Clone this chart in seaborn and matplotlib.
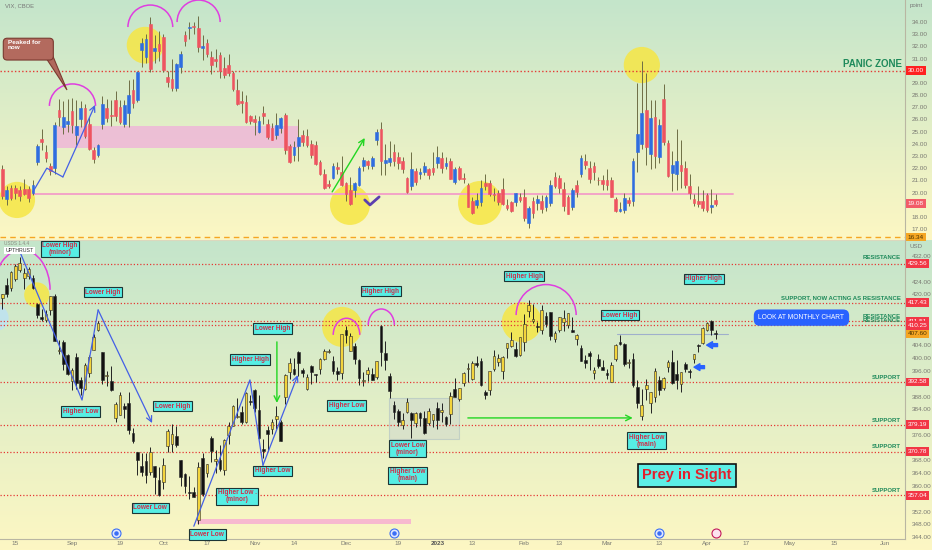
import matplotlib
matplotlib.use("Agg")
import matplotlib.pyplot as plt
import matplotlib.transforms as mtransforms
from matplotlib.colors import LinearSegmentedColormap
from matplotlib.patches import Arc, Rectangle, FancyBboxPatch, Polygon
import numpy as np
import pandas as pd
import seaborn as sns

# ---------------------------------------------------------------- data
# trading days shown: 2022-08-10 .. 2023-04-05, index 0 = Aug 15
holidays = ["2022-09-05", "2022-11-24", "2022-12-26",
            "2023-01-02", "2023-01-16", "2023-02-20"]
days = pd.bdate_range("2022-08-10", "2023-04-05")
days = days[~days.isin(pd.to_datetime(holidays))]
day_idx = np.arange(len(days)) - 3

# SPY daily (bottom panel)
spy_open = [
    418.8, 423.0, 422.0, 424.8, 427.7, 425.1, 425.8, 425.0, 417.1, 412.9, 412.1, 415.2, 419.4, 402.2, 405.0, 401.1,
    392.9, 400.3, 393.1, 390.4, 395.3, 402.7, 408.8, 401.8, 394.5, 393.0, 381.2, 382.3, 385.1, 386.1, 376.6, 370.6, 366.4, 367.8, 364.4, 366.1, 361.8,
    361.1, 372.4, 373.2, 375.6, 368.0, 363.9, 358.2, 358.2, 349.2, 368.6, 364.0, 375.1, 367.8, 368.0, 365.1, 375.9, 378.8, 381.6, 383.1, 379.9, 386.4,
    390.1, 383.9, 371.5, 377.4, 377.7, 381.1, 379.9, 388.0, 395.6, 396.7, 401.9, 396.4, 390.5, 397.7, 394.9, 396.6, 399.6, 401.8, 399.1, 396.1, 395.5,
    408.8, 402.3, 403.9, 399.4, 392.9, 395.1, 394.9, 394.1, 410.2, 401.6, 394.3, 385.2, 383.5, 379.0, 383.3, 383.0, 379.7, 382.8, 381.3, 379.6, 380.6,
    384.4, 383.2, 381.7, 382.6, 390.4, 387.2, 392.2, 396.7, 393.6, 398.5, 399.0, 389.4, 390.1, 396.7, 398.9, 395.9, 403.1, 403.7, 402.8, 401.1,
    405.2, 414.9, 411.6, 410.2, 408.9, 413.1, 414.4, 405.9, 408.7, 411.2, 410.4, 408.7, 406.1, 403.1, 399.5, 401.6, 395.4, 399.9, 397.2,
    395.4, 392.7, 399.7, 405.0, 404.4, 398.4, 399.7, 391.0, 381.8, 390.5, 385.9, 387.8, 393.2, 390.8, 397.2, 398.7, 395.1, 391.8, 398.1, 395.8, 399.9, 404.0, 404.7,
    408.9, 411.6, 408.0,
]
spy_high = [
    420.1, 425.0, 427.2, 429.4, 431.7, 428.1, 428.6, 426.2, 417.4, 415.4, 415.1, 419.6, 420.0, 405.8, 405.8, 401.2,
    396.8, 401.6, 394.1, 398.6, 401.0, 407.5, 411.7, 401.9, 396.1, 397.7, 386.3, 389.3, 386.1, 389.4, 378.3, 370.6, 370.2, 370.4, 372.3, 366.2, 365.9,
    368.6, 377.8, 379.5, 378.7, 368.0, 364.2, 363.0, 359.8, 367.5, 370.3, 367.0, 375.5, 371.2, 372.7, 374.8, 380.1, 385.3, 387.6, 385.0, 389.5, 388.4,
    390.4, 388.6, 374.8, 378.9, 381.0, 385.1, 380.6, 395.0, 400.0, 400.2, 402.3, 397.0, 394.9, 397.8, 395.1, 400.0, 403.0, 403.0, 400.8, 397.3, 407.7,
    410.0, 407.9, 404.9, 399.6, 395.6, 397.4, 397.0, 399.0, 410.5, 405.5, 395.3, 386.6, 384.2, 383.0, 387.4, 383.3, 383.1, 383.2, 383.4, 384.4, 382.6,
    386.4, 385.9, 381.8, 389.3, 393.7, 390.7, 395.6, 398.5, 399.1, 400.8, 400.1, 390.0, 396.0, 402.6, 401.2, 400.7, 404.9, 408.2, 405.1, 406.5,
    413.7, 418.3, 417.0, 411.3, 416.5, 414.5, 414.6, 408.4, 413.0, 415.0, 414.1, 412.9, 407.5, 404.2, 401.1, 402.2, 397.2, 401.3, 399.3,
    396.7, 398.7, 404.5, 407.4, 404.7, 399.7, 401.6, 393.2, 390.4, 393.5, 389.5, 397.0, 394.4, 394.2, 399.4, 402.5, 399.3, 395.8, 398.9, 396.5, 401.4, 404.5, 409.7,
    411.3, 411.9, 408.7,
]
spy_low = [
    415.3, 419.2, 421.0, 424.3, 426.9, 421.8, 424.8, 421.7, 412.5, 411.8, 411.4, 413.6, 405.3, 401.2, 396.2, 394.8,
    390.0, 390.3, 388.4, 390.2, 394.2, 402.5, 408.5, 391.8, 391.2, 389.6, 379.9, 382.2, 381.2, 376.4, 373.4, 363.3, 363.0, 360.9, 363.3, 357.4, 357.0,
    359.2, 370.5, 370.6, 372.3, 359.9, 357.7, 355.9, 356.4, 348.1, 356.9, 362.9, 367.5, 364.2, 364.6, 363.5, 373.1, 378.7, 381.4, 379.3, 379.7, 385.3,
    383.3, 374.8, 368.8, 370.9, 376.2, 377.7, 374.0, 385.6, 393.5, 394.6, 394.5, 394.2, 390.1, 392.0, 392.7, 395.2, 399.3, 401.5, 395.1, 393.3, 393.5,
    404.8, 402.1, 398.2, 391.6, 391.4, 392.8, 393.3, 393.6, 397.5, 396.3, 387.4, 381.0, 378.8, 377.7, 382.7, 374.9, 378.4, 378.8, 376.4, 379.1, 378.4,
    377.8, 380.0, 378.8, 379.4, 387.7, 386.6, 391.4, 392.4, 393.3, 397.1, 391.3, 387.3, 388.4, 396.0, 397.6, 393.6, 400.0, 403.4, 400.3, 400.8,
    402.4, 412.9, 411.1, 408.1, 407.6, 409.9, 405.8, 405.0, 408.2, 408.5, 409.5, 408.1, 404.1, 399.0, 397.0, 396.3, 393.6, 396.8, 396.2,
    393.4, 392.6, 399.0, 404.0, 397.6, 396.8, 390.9, 384.3, 380.7, 387.0, 382.7, 386.3, 388.6, 390.1, 395.6, 392.0, 390.4, 389.4, 395.6, 393.7, 398.5, 401.8, 404.5,
    408.4, 407.2, 405.9,
]
spy_close = [
    420.0, 420.0, 427.1, 428.9, 429.7, 426.7, 427.9, 422.1, 413.4, 412.4, 413.7, 419.5, 405.3, 402.6, 398.2, 395.2,
    396.4, 392.2, 390.8, 397.8, 400.4, 406.6, 411.0, 393.1, 394.6, 390.1, 385.6, 388.6, 384.1, 377.4, 374.2, 368.0, 364.3, 363.4, 370.5, 362.8, 357.2,
    366.6, 377.1, 376.4, 372.7, 362.8, 360.0, 357.7, 356.6, 366.0, 357.6, 366.8, 371.1, 368.5, 365.4, 374.3, 378.9, 384.9, 382.0, 380.0, 389.0, 386.2,
    384.5, 374.9, 371.0, 376.4, 380.0, 382.0, 374.1, 394.7, 398.5, 395.1, 398.5, 395.5, 394.2, 395.6, 394.6, 399.9, 402.4, 402.3, 395.9, 395.2, 407.7,
    407.4, 406.9, 399.6, 393.8, 393.2, 396.2, 393.3, 399.0, 402.0, 399.4, 389.6, 383.3, 380.0, 380.5, 386.2, 380.7, 382.9, 381.4, 376.7, 383.4, 382.4,
    380.8, 383.8, 379.4, 388.1, 387.9, 390.6, 395.5, 397.0, 398.5, 397.8, 391.5, 388.6, 395.9, 400.6, 400.2, 400.4, 404.8, 405.7, 400.6, 406.5,
    410.8, 416.8, 412.4, 409.8, 415.2, 410.7, 407.1, 408.0, 412.8, 412.6, 414.0, 408.3, 407.3, 399.1, 398.5, 400.7, 396.4, 397.7, 396.3,
    394.7, 397.8, 404.2, 404.5, 398.3, 398.9, 391.6, 385.9, 385.4, 391.7, 389.3, 396.1, 390.0, 393.7, 398.9, 392.1, 393.2, 395.8, 396.5, 395.6, 401.4, 403.7, 409.4,
    411.0, 408.7, 407.6,
]

# VIX daily (top panel)
vix_open = [
    21.9, 19.5, 20.4, 20.4, 20.2, 20.3, 20.3, 20.0, 22.5, 24.4, 23.3, 22.2, 22.0, 26.8, 25.4, 25.6,
    26.7, 24.7, 26.0, 26.9, 25.6, 23.5, 23.1, 25.6, 26.9, 26.3, 27.6, 27.0, 25.6, 26.5, 28.4, 27.6, 31.7, 31.1, 33.8, 31.6, 32.2,
    32.8, 29.5, 29.3, 28.6, 30.3, 32.9, 33.5, 33.6, 33.5, 31.9, 32.3, 31.1, 31.0, 31.3, 30.2, 30.5, 29.8, 28.4, 27.5, 27.4, 26.3,
    26.0, 25.0, 26.5, 25.6, 25.3, 24.7, 25.3, 26.4, 23.8, 23.1, 23.8, 24.7, 24.6, 24.0, 23.9, 22.5, 21.5, 20.7, 21.2, 22.1, 21.7,
    20.8, 20.2, 20.2, 20.6, 22.2, 22.6, 22.2, 24.3, 25.2, 22.4, 22.5, 23.3, 22.9, 22.6, 21.2, 20.5, 21.8, 21.5, 21.7, 21.9, 22.0,
    22.4, 22.8, 22.2, 22.6, 20.9, 22.0, 21.2, 20.6, 19.3, 19.0, 19.2, 20.8, 20.8, 19.9, 20.0, 20.3, 19.0, 19.2, 19.2, 19.6,
    19.6, 17.5, 19.3, 19.1, 19.3, 18.8, 19.1, 21.3, 21.2, 20.3, 19.6, 18.8, 20.6, 21.5, 22.6, 22.0, 22.2, 21.0, 21.0,
    21.0, 21.0, 19.5, 18.5, 18.6, 19.4, 19.3, 23.3, 24.0, 26.8, 23.2, 26.2, 22.9, 27.7, 24.1, 21.6, 21.5, 22.3, 22.0, 20.5, 19.5, 19.3, 19.3,
    19.8, 18.8, 19.4,
]
vix_high = [
    22.3, 20.5, 20.6, 20.6, 20.5, 21.1, 20.5, 21.0, 24.0, 25.2, 23.9, 22.4, 25.8, 27.7, 27.5, 27.7,
    27.8, 27.6, 27.5, 27.3, 26.2, 23.7, 24.0, 27.9, 27.7, 27.6, 28.3, 27.6, 27.6, 29.2, 29.3, 30.0, 32.7, 33.0, 34.4, 32.9, 33.3,
    33.0, 30.0, 31.0, 30.6, 31.6, 33.3, 34.0, 34.0, 34.5, 32.9, 32.6, 31.6, 31.8, 31.5, 31.1, 31.4, 30.0, 29.3, 28.3, 28.0, 26.4,
    26.4, 26.3, 27.1, 26.0, 25.7, 26.5, 26.2, 26.5, 24.0, 24.2, 26.0, 25.1, 25.2, 24.3, 24.2, 22.7, 21.9, 21.0, 22.4, 22.5, 23.0,
    20.9, 21.3, 20.9, 22.2, 22.9, 22.7, 23.0, 25.2, 25.8, 24.0, 24.2, 24.0, 23.3, 22.9, 21.3, 23.3, 22.0, 22.0, 22.5, 22.0, 23.3,
    23.8, 23.3, 22.9, 22.8, 22.1, 22.2, 21.6, 20.8, 19.6, 20.0, 21.0, 21.5, 21.0, 20.4, 20.2, 21.2, 19.5, 19.3, 20.0, 20.0,
    20.3, 18.9, 19.6, 19.8, 19.8, 19.8, 21.0, 21.7, 21.4, 20.9, 19.8, 20.4, 21.0, 23.1, 23.2, 22.6, 22.5, 21.3, 21.4,
    21.9, 21.3, 19.6, 19.2, 20.0, 19.6, 22.8, 29.0, 30.8, 29.8, 27.6, 27.6, 26.0, 28.9, 24.3, 23.4, 25.2, 24.3, 22.6, 21.5, 19.9, 20.5, 20.2,
    20.0, 20.3, 19.9,
]
vix_low = [
    19.5, 19.0, 19.4, 19.5, 19.3, 19.8, 19.2, 19.8, 22.3, 23.5, 22.5, 21.4, 21.5, 25.5, 24.8, 25.0,
    24.9, 23.9, 25.4, 24.5, 23.5, 22.4, 22.9, 25.2, 25.8, 25.5, 25.9, 25.6, 25.4, 25.4, 26.9, 27.4, 30.3, 30.6, 29.9, 30.6, 30.8,
    29.9, 28.7, 28.3, 28.3, 29.8, 32.0, 32.6, 33.0, 31.5, 30.9, 31.1, 29.7, 30.3, 29.4, 29.4, 29.6, 28.3, 27.2, 26.5, 25.7, 25.6,
    24.7, 24.9, 25.6, 24.4, 24.3, 24.4, 24.9, 23.2, 22.4, 22.6, 22.6, 23.8, 23.7, 22.8, 22.3, 21.4, 20.3, 20.4, 21.1, 21.5, 20.5,
    19.3, 19.0, 19.6, 20.5, 21.8, 21.9, 21.9, 23.9, 21.4, 21.4, 22.2, 22.2, 21.9, 21.6, 20.0, 20.2, 20.6, 21.1, 21.4, 21.1, 21.4,
    22.0, 21.6, 21.9, 21.1, 20.7, 21.0, 20.8, 18.8, 18.2, 18.7, 18.9, 20.2, 19.7, 19.3, 19.0, 19.0, 18.6, 18.4, 18.9, 19.2,
    17.7, 17.1, 17.9, 18.6, 18.3, 18.5, 18.9, 20.4, 20.0, 18.5, 18.2, 18.6, 19.6, 21.3, 21.9, 20.8, 21.0, 20.6, 20.2,
    20.2, 19.6, 18.4, 18.4, 18.3, 18.9, 18.9, 21.7, 23.6, 22.3, 21.9, 22.0, 22.4, 23.9, 21.3, 20.1, 20.2, 20.4, 20.4, 19.5, 18.9, 18.8, 18.5,
    18.4, 18.3, 18.9,
]
vix_close = [
    19.74, 20.20, 19.53, 19.95, 19.69, 19.90, 19.56, 20.60, 23.80, 24.11, 22.82, 21.78, 25.56, 26.21, 26.21, 25.87,
    25.56, 25.47, 26.91, 24.64, 23.61, 22.79, 23.87, 27.27, 26.16, 26.27, 26.30, 25.76, 27.16, 27.99, 27.35, 29.92, 32.26, 32.60, 30.18, 31.84, 31.62,
    30.10, 29.07, 28.55, 30.52, 31.36, 32.45, 33.63, 33.57, 31.94, 32.02, 31.37, 30.50, 30.76, 29.98, 29.69, 29.85, 28.46, 27.28, 27.39, 25.75, 25.88,
    25.81, 25.86, 26.27, 24.55, 24.35, 25.54, 26.09, 23.53, 22.52, 23.73, 24.54, 24.11, 23.93, 23.12, 22.36, 21.51, 20.35, 20.50, 22.21, 21.89, 20.58,
    19.84, 19.06, 20.75, 22.01, 22.68, 22.29, 22.83, 25.00, 22.55, 22.68, 22.83, 22.62, 22.42, 21.97, 20.07, 21.97, 20.87, 21.65, 22.14, 21.44, 21.67,
    22.90, 22.01, 22.46, 21.13, 21.97, 21.07, 21.09, 18.83, 18.35, 19.36, 20.34, 20.52, 19.85, 19.81, 19.20, 19.08, 18.73, 18.51, 19.94, 19.40,
    17.87, 18.73, 18.33, 19.43, 18.66, 19.63, 20.63, 20.53, 20.34, 18.91, 18.23, 20.17, 20.02, 22.87, 22.29, 21.14, 21.67, 20.95, 20.70,
    20.58, 19.63, 18.49, 18.61, 19.59, 19.11, 22.61, 24.80, 26.52, 23.73, 26.14, 22.99, 25.51, 24.12, 21.38, 22.26, 22.61, 21.74, 20.60, 19.97, 19.12, 19.02, 18.70,
    18.55, 19.00, 19.08,
]

# horizontal levels
vix_panic = 30.00
vix_floor = 16.34
vix_last = 19.08
spy_levels = [429.56, 417.43, 411.51, 410.25, 392.58, 379.19, 370.78, 357.04]
spy_last = 407.60
level_notes = [(431.4, "RESISTANCE"), (418.8, "SUPPORT, NOW ACTING AS RESISTANCE"),
               (413.1, "RESISTANCE"), (411.9, "RESISTANCE"), (394.1, "SUPPORT"),
               (380.6, "SUPPORT"), (372.5, "SUPPORT"), (358.7, "SUPPORT")]

# price-scale ticks (those hidden behind the price tags left out)
vix_ticks = [17, 18, 20, 21, 22, 23, 24, 25, 26, 27, 28, 29, 31, 32, 33, 34]
spy_ticks = [344, 348, 352, 360, 364, 368, 376, 384, 388, 396, 400, 404, 420, 424, 432]

# time axis labels (day index positions)
tick_pos = [0, 13, 24, 34, 44, 55, 64, 76, 88, 97, 105, 117, 125, 136, 148, 159, 168, 178, 188.2, 199.9]
tick_lab = ["15", "Sep", "19", "Oct", "17", "Nov", "14", "Dec", "19", "2023",
            "13", "Feb", "13", "Mar", "13", "Apr", "17", "May", "15", "Jun"]

# swing labels on the SPY panel
swing_labels = [
    (10.2, 434.2, "Lower High\n(minor)"), (20.1, 420.6, "Lower High"), (14.9, 383.3, "Higher Low"),
    (36.1, 384.9, "Lower High"), (59.1, 409.3, "Lower High"), (54.0, 399.6, "Higher High"),
    (59.1, 364.8, "Higher Low"), (51.0, 356.8, "Higher Low .\n(minor)"), (31.0, 353.2, "Lower Low"),
    (44.1, 344.8, "Lower Low"), (84.0, 420.9, "Higher High"), (76.1, 385.2, "Higher Low"),
    (90.1, 371.6, "Lower Low\n(minor)"), (90.1, 363.4, "Higher Low\n(main)"), (117.0, 425.6, "Higher High"),
    (139.0, 413.4, "Lower High"), (158.2, 424.8, "Higher High"), (145.1, 374.1, "Higher Low\n(main)"),
]

spy = pd.DataFrame({"x": day_idx, "open": spy_open, "high": spy_high,
                    "low": spy_low, "close": spy_close})
vix = pd.DataFrame({"x": day_idx, "open": vix_open, "high": vix_high,
                    "low": vix_low, "close": vix_close})

# ---------------------------------------------------------------- style
sns.set_style("white")
plt.rcParams["font.family"] = ["Liberation Sans", "DejaVu Sans"]

W, H = 932, 550
fig = plt.figure(figsize=(W / 100, H / 100), dpi=100)
tv_cmap = LinearSegmentedColormap.from_list("tv", ["#c4e5cb", "#fdf7c3"])
grad = np.linspace(0, 1, 256).reshape(-1, 1)
for rect in ([0, 310 / H, 1, 240 / H], [0, 0, 1, 310 / H]):
    bg = fig.add_axes(rect, zorder=-5)
    bg.imshow(grad, aspect="auto", cmap=tv_cmap, extent=[0, 1, 0, 1], origin="upper")
    bg.set_axis_off()

ax1 = fig.add_axes([0, 310 / H, 905 / W, 240 / H])
ax2 = fig.add_axes([0, 11 / H, 905 / W, 299 / H])
XLIM = (-3.56, 204.5)


def candles(ax, df, up, down, wick, edge, min_body):
    ax.vlines(df["x"], df["low"], df["high"], color=wick, lw=0.7, zorder=4)
    body = (df["close"] - df["open"]).to_numpy()
    body = np.where(np.abs(body) < min_body, min_body, body)
    cols = np.where(df["close"] >= df["open"], up, down)
    ax.bar(df["x"], body, bottom=df["open"], width=0.62, color=cols,
           edgecolor=edge if edge else cols, linewidth=0.4, zorder=5)


def price_tag(ax, y, text, bg, fg="white"):
    tr = mtransforms.blended_transform_factory(ax.transAxes, ax.transData)
    ax.text(1.003, y, text, transform=tr, ha="left", va="center", fontsize=4.6,
            color=fg, clip_on=False, zorder=20,
            bbox=dict(boxstyle="square,pad=0.28", fc=bg, ec="none"))


def arrow(ax, tail, head, color, lw=1.0, style="->"):
    ax.annotate("", xy=head, xytext=tail, zorder=9,
                arrowprops=dict(arrowstyle=style, color=color, lw=lw,
                                shrinkA=0, shrinkB=0))


MAGENTA = "#df3ee0"
ZIG = "#4460e6"

# ---------------------------------------------------------------- top: VIX
ax1.text(0.006, 0.985, "VIX, CBOE", transform=ax1.transAxes, ha="left", va="top",
         fontsize=4.2, color="#777")
circ_top = pd.DataFrame({"x": [0.34, 29.8, 76.9, 106.8, 144.0],
                         "y": [19.39, 32.1, 18.98, 19.14, 30.47],
                         "s": [680, 700, 830, 1000, 680]})
sns.scatterplot(data=circ_top, x="x", y="y", size="s",
                sizes={v: v for v in circ_top["s"]}, color="#f6e644",
                alpha=0.85, edgecolor="none", legend=False, ax=ax1, zorder=1)
ax1.add_patch(Rectangle((9.5, 23.66), 55.4, 1.81, fc="#eebad7", ec="none", alpha=0.9, zorder=2))
ax1.plot([4.0, 164.9], [19.88, 19.88], color="#f3a3c8", lw=1.4, zorder=2)
ax1.axhline(vix_panic, color="#e53935", lw=1.0, ls=(0, (1, 1.6)), zorder=3)
ax1.axhline(vix_floor, color="#f5a623", lw=1.0, ls=(0, (4, 3)), zorder=3)
candles(ax1, vix, "#2f6de0", "#ee5460", "#6e6e45", None, 0.06)

for cx, cy, w in [(13.1, 27.11, 10.6), (31.0, 33.59, 10.3), (42.1, 34.0, 9.9)]:
    ax1.add_patch(Arc((cx, cy), w, 3.61, theta1=0, theta2=180, color=MAGENTA, lw=1.1, zorder=7))
zx, zy = [4.0, 7.2, 10.9, 18.3], [20.05, 22.0, 21.28, 27.19]
ax1.plot(zx[:-1], zy[:-1], color=ZIG, lw=0.9, zorder=7)
arrow(ax1, (zx[-2], zy[-2]), (zx[-1], zy[-1]), ZIG, 0.9)
arrow(ax1, (72.8, 20.05), (80.3, 24.48), "#22d622", 1.0)
ax1.plot([80.3, 81.5, 83.6], [19.39, 18.98, 19.64], color="#5b3fb0", lw=2.0,
         solid_capstyle="round", zorder=8)

# "Peaked for now" callout
ax1.add_patch(Polygon([(7.2, 30.95), (8.6, 31.2), (11.84, 28.42)], closed=True,
                      fc="#b0685c", ec="#7a3a30", lw=0.8, zorder=9))
ax1.add_patch(FancyBboxPatch((-2.8, 30.88), 11.5, 1.79,
                             boxstyle="round,pad=0,rounding_size=0.9",
                             mutation_aspect=0.357, fc="#b36a5e", ec="#7a3a30",
                             lw=0.8, zorder=10))
ax1.text(-1.7, 32.5, "Peaked for\nnow", ha="left", va="top", fontsize=4.6,
         fontweight="bold", color="white", linespacing=0.95, zorder=11)
ax1.text(203.8, 30.56, "PANIC ZONE", ha="right", va="center", fontsize=7,
         fontweight="bold", color="#1f8a5b", zorder=9)

# ---------------------------------------------------------------- bottom: SPY
circ_bot = pd.DataFrame({"x": [4.9, 75.1, 116.4], "y": [419.8, 409.8, 411.3],
                         "s": [330, 830, 830]})
sns.scatterplot(data=circ_bot, x="x", y="y", size="s",
                sizes={v: v for v in circ_bot["s"]}, color="#f6e644",
                alpha=0.85, edgecolor="none", legend=False, ax=ax2, zorder=1)
ax2.scatter([-4.6], [412.6], s=360, color="#bfe3f0", alpha=0.9, edgecolor="none", zorder=1)
ax2.add_patch(Rectangle((85.9, 374.7), 16.0, 12.8, fc="#c9d2d0", ec="#9fb3c3",
                        lw=0.8, alpha=0.45, zorder=2))
ax2.add_patch(Rectangle((41.7, 348.1), 49.2, 1.5, fc="#f7b9cf", ec="none", zorder=2))
for lvl in spy_levels:
    ax2.axhline(lvl, color="#e53935", lw=0.9, ls=(0, (1, 1.6)), zorder=3)
ax2.plot([138.3, 163.8], [407.6, 407.6], color="#9fb0cc", lw=0.8, zorder=3)
candles(ax2, spy, "#f3d43c", "#111111", "#222222", "#2a2a2a", 0.25)

for cx, cy, w, h in [(1.5, 421.4, 12.9, 25.1), (76.1, 407.3, 6.1, 10.4),
                     (84.1, 410.4, 6.0, 10.0), (122.0, 413.5, 13.8, 19.1)]:
    ax2.add_patch(Arc((cx, cy), w, h, theta1=0, theta2=180, color=MAGENTA, lw=1.1, zorder=7))
for zx, zy in [([1.03, 15.3, 19.0, 31.4], [433.25, 386.9, 415.1, 379.7]),
               ([41.0, 53.9, 56.9, 64.9], [347.4, 393.2, 366.5, 394.7])]:
    ax2.plot(zx[:-1], zy[:-1], color=ZIG, lw=0.9, zorder=7)
    arrow(ax2, (zx[-2], zy[-2]), (zx[-1], zy[-1]), ZIG, 0.9)
arrow(ax2, (60.1, 405.1), (60.1, 386.0), "#22d622", 1.0)
arrow(ax2, (104.0, 381.3), (141.9, 381.3), "#22d622", 1.0)
for tail, head in [((161.4, 404.1), (158.9, 404.1)), ((158.4, 397.2), (156.0, 397.2))]:
    ax2.annotate("", xy=head, xytext=tail, zorder=9,
                 arrowprops=dict(arrowstyle="simple,head_length=0.6,head_width=0.7,tail_width=0.3",
                                 color="#2962ff", shrinkA=0, shrinkB=0, mutation_scale=7))

for x, y, txt in swing_labels:
    ax2.text(x, y, txt, ha="center", va="center", fontsize=4.7, fontweight="bold",
             color="#cf2f4b", linespacing=0.95, zorder=12,
             bbox=dict(boxstyle="square,pad=0.24", fc="#56eee4", ec="#1d3535", lw=0.8))
ax2.text(154.4, 363.3, "Prey in Sight", ha="center", va="center", fontsize=10.5,
         fontweight="bold", color="#e3202c", zorder=12,
         bbox=dict(boxstyle="square,pad=0.3", fc="#5cefe6", ec="#111", lw=1.2))
ax2.text(180.7, 412.7, "LOOK AT MONTHLY CHART", ha="center", va="center", fontsize=4.8,
         color="white", zorder=12,
         bbox=dict(boxstyle="round,pad=0.7,rounding_size=0.9", fc="#2962ff", ec="none"))
for y, txt in level_notes:
    ax2.text(203.5, y, txt, ha="right", va="center", fontsize=4.3, fontweight="bold",
             color="#1f8a5b", zorder=9)

ax2.text(0.004, 0.997, "USDS 1.4.4", transform=ax2.transAxes,
         ha="left", va="top", fontsize=3.4, color="#8a8a80", zorder=11)
ax2.text(0.006, 0.972, "UPTHRUST", transform=ax2.transAxes, ha="left", va="top",
         fontsize=3.8, color="#333", zorder=12,
         bbox=dict(boxstyle="square,pad=0.2", fc="white", ec="none"))

# event icons on the time axis
icon_tr = mtransforms.blended_transform_factory(ax2.transData, ax2.transAxes)
ax2.scatter([23.1, 87.0, 148.0], [0.02] * 3, s=42, transform=icon_tr, fc="#dfe7ff",
            ec="#3b6ef5", lw=0.8, zorder=12, clip_on=False)
ax2.scatter([23.1, 87.0, 148.0], [0.02] * 3, s=5, transform=icon_tr, color="#3b6ef5",
            zorder=13, clip_on=False)
ax2.scatter([161.0], [0.02], s=42, transform=icon_tr, fc="#fde3ef", ec="#c2185b",
            lw=0.8, zorder=12, clip_on=False)

# ---------------------------------------------------------------- axes finish
for ax in (ax1, ax2):
    ax.patch.set_alpha(0)
    ax.set_xlim(*XLIM)
    ax.set_xlabel("")
    ax.set_ylabel("")
    for s in ax.spines.values():
        s.set_visible(False)
    ax.spines["right"].set_visible(True)
    ax.spines["right"].set_color("#b9b6a2")
    ax.spines["right"].set_linewidth(0.8)
    ax.yaxis.tick_right()
    ax.tick_params(axis="y", length=0, pad=5, labelsize=4.6, labelcolor="#7a7a72")
ax1.set_ylim(16.10, 35.81)
ax2.set_ylim(343.4, 437.0)
ax1.spines["bottom"].set_visible(True)
ax1.spines["bottom"].set_color("#dcd8bd")
ax2.spines["bottom"].set_visible(True)
ax2.spines["bottom"].set_color("#b9b6a2")
ax1.set_xticks([])
ax1.set_yticks(vix_ticks)
ax1.set_yticklabels([f"{v:.2f}" for v in vix_ticks])
ax2.set_yticks(spy_ticks)
ax2.set_yticklabels([f"{v:.2f}" for v in spy_ticks])
ax2.set_xticks(tick_pos)
ax2.set_xticklabels(tick_lab)
ax2.tick_params(axis="x", length=0, pad=1.5, labelsize=4.6, labelcolor="#7a7a72")
for t in ax2.get_xticklabels():
    if t.get_text() == "2023":
        t.set_fontweight("bold")
        t.set_color("#555")

price_tag(ax1, vix_panic, f"{vix_panic:.2f}", "#ff2020")
price_tag(ax1, vix_last, f"{vix_last:.2f}", "#f25b68")
price_tag(ax1, vix_floor, f"{vix_floor:.2f}", "#f5a623", "#4a3300")
fig.text(910 / W, 1 - 6 / H, "point", fontsize=4.4, color="#777", va="center")
for lvl in spy_levels:
    price_tag(ax2, lvl, f"{lvl:.2f}", "#f23645")
price_tag(ax2, spy_last, f"{spy_last:.2f}", "#f5a623", "#4a3300")
fig.text(910 / W, 1 - 246 / H, "USD", fontsize=4.4, color="#777", va="center")

fig.savefig("out.png", dpi=100)
